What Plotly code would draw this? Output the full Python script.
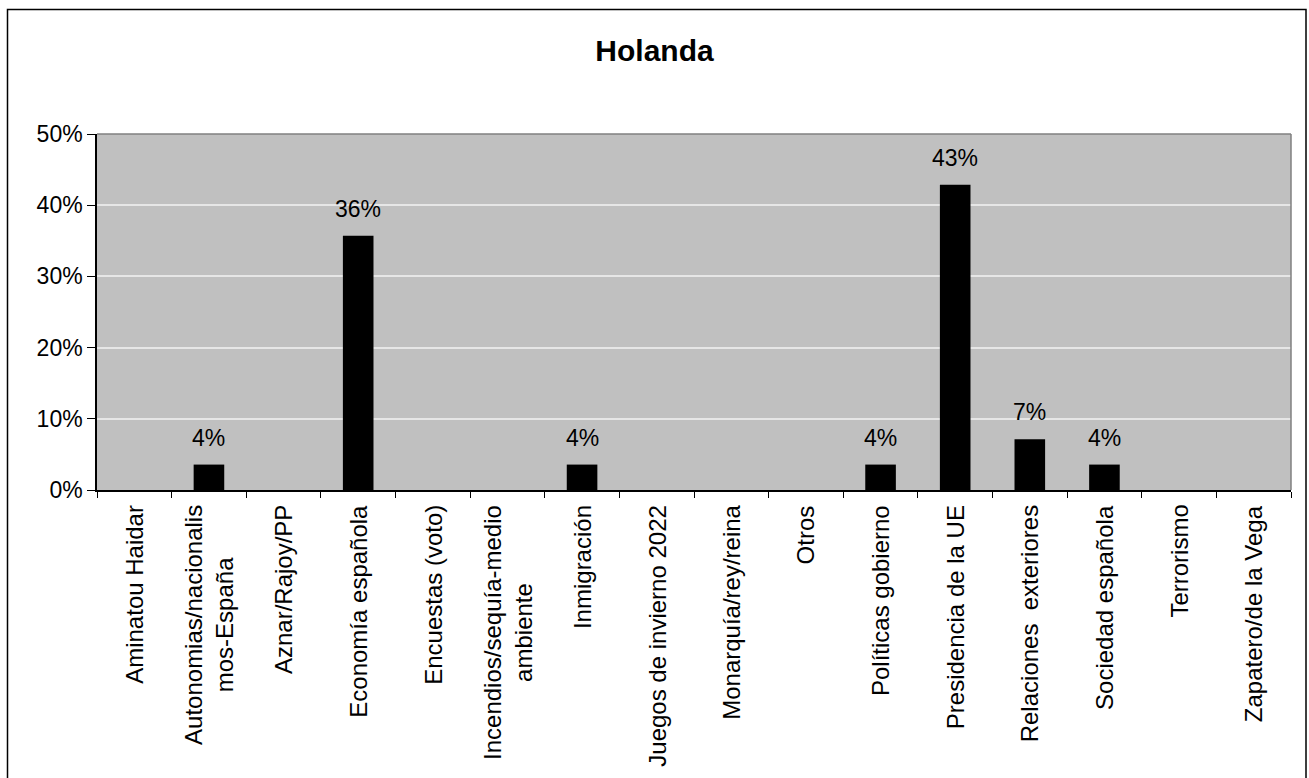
import plotly.graph_objects as go

categories = [
    "Aminatou Haidar",
    "Autonomias/nacionalis<br>mos-España",
    "Aznar/Rajoy/PP",
    "Economía española",
    "Encuestas (voto)",
    "Incendios/sequía-medio<br>ambiente",
    "Inmigración",
    "Juegos de invierno 2022",
    "Monarquía/rey/reina",
    "Otros",
    "Políticas gobierno",
    "Presidencia de la UE",
    "Relaciones  exteriores",
    "Sociedad española",
    "Terrorismo",
    "Zapatero/de la Vega",
]
values = [0, 3.57, 0, 35.71, 0, 0, 3.57, 0, 0, 0, 3.57, 42.86, 7.14, 3.57, 0, 0]
y_ticks = [0, 10, 20, 30, 40, 50]
y_tick_labels = ["0%", "10%", "20%", "30%", "40%", "50%"]
title_text = "Holanda"

FONT = "Liberation Sans, Arial, Helvetica, sans-serif"

W, H = 1309, 778
L, R, T, B = 97, 18, 134, 288
pw, ph = W - L - R, H - T - B

fig = go.Figure()
fig.add_trace(go.Bar(
    x=categories, y=values,
    marker=dict(color="#000000", line=dict(width=0)),
    width=0.41,
    hoverinfo="x+y",
))

# data labels
for c, v in zip(categories, values):
    if v > 0:
        fig.add_annotation(x=c, y=v, text=f"{round(v):d}%", showarrow=False,
                           yanchor="bottom", yshift=12,
                           font=dict(family=FONT, size=23, color="#000000"))

# category labels (rotated, centre-aligned lines)
for c in categories:
    fig.add_annotation(x=c, y=0, xref="x", yref="paper", text=c, showarrow=False,
                       textangle=-90, align="center", xanchor="center", yanchor="top",
                       yshift=-13, font=dict(family=FONT, size=24, color="#000000"))

def px_x(p):
    return (p - L) / pw

def px_y(p):
    return (H - B - p) / ph

# outer border
fig.add_shape(type="rect", xref="paper", yref="paper",
              x0=px_x(7.5), x1=px_x(1306), y0=px_y(790), y1=px_y(9.5),
              line=dict(color="#000000", width=1.5), layer="below")
# gray top/right plot border
fig.add_shape(type="line", xref="paper", yref="paper", x0=0, x1=1, y0=1, y1=1,
              line=dict(color="#808080", width=1.5), layer="above")
fig.add_shape(type="line", xref="paper", yref="paper", x0=1, x1=1, y0=0, y1=1,
              line=dict(color="#808080", width=1.5), layer="above")

fig.update_layout(
    width=W, height=H, autosize=False,
    margin=dict(l=L, r=R, t=T, b=B, pad=0),
    paper_bgcolor="#ffffff", plot_bgcolor="#c0c0c0",
    showlegend=False,
    title=dict(text=f"<b>{title_text}</b>", x=0.5, xref="container", xanchor="center",
               y=1 - 50 / H, yref="container", yanchor="middle",
               font=dict(family=FONT, size=30, color="#000000")),
    font=dict(family=FONT, size=23, color="#000000"),
    bargap=0.59,
)
fig.update_xaxes(
    type="category", showgrid=False, showticklabels=False,
    showline=True, linecolor="#000000", linewidth=1.5,
    ticks="outside", ticklen=6, tickcolor="#000000", tickwidth=1, tickson="boundaries",
    range=[-0.5, len(categories) - 0.5],
)
fig.update_yaxes(
    range=[0, 50], tickvals=y_ticks, ticktext=y_tick_labels,
    showgrid=True, gridcolor="#e6e6e6", gridwidth=1.5,
    showline=True, linecolor="#000000", linewidth=1.5,
    ticks="outside", ticklen=8, tickcolor="#000000", tickwidth=1,
    tickfont=dict(family=FONT, size=23, color="#000000"),
    zeroline=False,
)

fig.write_html("out.html",
               config={"displayModeBar": False},
               post_script="document.body.style.margin='0px';document.body.style.overflow='hidden';")
